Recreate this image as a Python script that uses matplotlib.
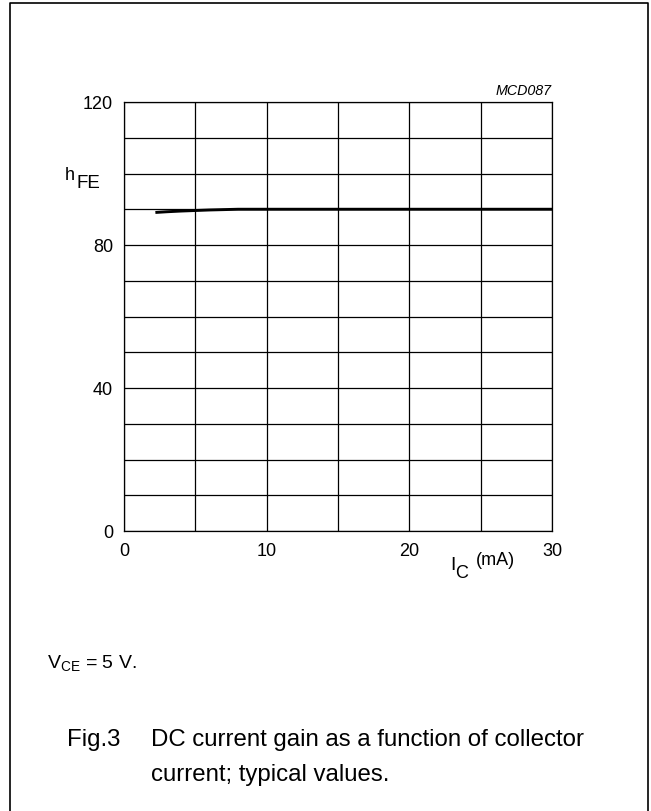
import matplotlib.pyplot as plt
from matplotlib.lines import Line2D

plt.rcParams['font.family'] = ['Liberation Sans', 'DejaVu Sans']
plt.rcParams['mathtext.fontset'] = 'custom'
plt.rcParams['mathtext.rm'] = 'Liberation Sans'

# hFE vs IC, VCE = 5 V
ic_ma = [2.2, 3, 4, 5, 6, 7, 8, 10, 15, 20, 25, 30]
hfe = [89.1, 89.3, 89.5, 89.65, 89.8, 89.9, 90, 90, 90, 90, 90, 90]

x_ticks = [0, 10, 20, 30]
y_ticks = [0, 40, 80, 120]

fig = plt.figure(figsize=(6.51, 8.12), dpi=100)
ax = fig.add_axes([124 / 651, 1 - 532 / 812, 428 / 651, 429 / 812])

ax.plot(ic_ma, hfe, color='black', linewidth=2.1, solid_capstyle='butt')

ax.set_xlim(0, 30)
ax.set_ylim(0, 120)
ax.set_xticks(range(0, 31, 5))
ax.set_yticks(range(0, 121, 10))
ax.grid(True, color='black', linewidth=0.9)
ax.tick_params(length=0, labelsize=13)
ax.tick_params(axis='y', pad=8)
ax.tick_params(axis='x', pad=8)
ax.set_xticklabels([str(v) if v in x_ticks else '' for v in range(0, 31, 5)])
ax.set_yticklabels([str(v) if v in y_ticks else '' for v in range(0, 121, 10)])
for s in ax.spines.values():
    s.set_linewidth(0.9)

# axis titles, placed like the datasheet
fig.text(65 / 651, 1 - 180 / 812, 'h', fontsize=13, va='baseline')
fig.text(77 / 651, 1 - 188 / 812, 'FE', fontsize=13.5, va='baseline')
fig.text(450 / 651, 1 - 570 / 812, 'I', fontsize=14, va='baseline')
fig.text(455 / 651, 1 - 578 / 812, 'C', fontsize=13, va='baseline')
fig.text(476 / 651, 1 - 565 / 812, '(mA)', fontsize=13, va='baseline')
fig.text(552 / 651, 1 - 95 / 812, 'MCD087', fontsize=10.3, style='italic',
         ha='right', va='baseline')

fig.text(47 / 651, 1 - 669 / 812, r'V$_{\mathrm{CE}}$ = 5 V.', fontsize=14,
         va='baseline')

fig.text(67 / 651, 1 - 746 / 812, 'Fig.3', fontsize=17.3, va='baseline')
fig.text(151 / 651, 1 - 746 / 812, 'DC current gain as a function of collector',
         fontsize=17.3, va='baseline')
fig.text(151 / 651, 1 - 781 / 812, 'current; typical values.', fontsize=17.3,
         va='baseline')

# page frame
fx = [10 / 651, 10 / 651, 648 / 651, 648 / 651]
fy = [0, 1 - 4 / 812, 1 - 4 / 812, 0]
fig.add_artist(Line2D(fx, fy, color='black', linewidth=1.2,
                      transform=fig.transFigure))

fig.savefig('out.png', dpi=100)
